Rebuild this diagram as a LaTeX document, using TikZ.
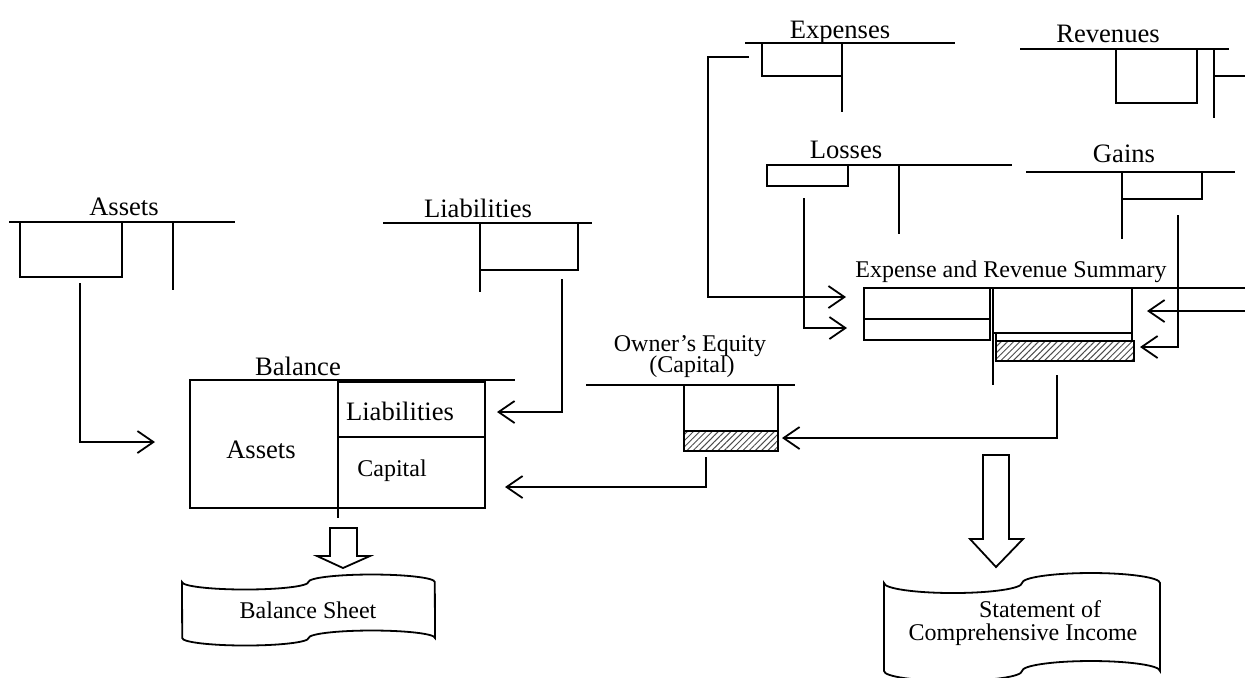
\documentclass[tikz,border=0pt]{standalone}
\usepackage{fontspec}
\setmainfont{Liberation Serif}
\usetikzlibrary{arrows.meta,patterns.meta}

\begin{document}
\begin{tikzpicture}[
        x=0.5pt, y=-0.5pt, line width=0.9pt,
        BigText/.style={font=\fontsize{13.3}{15}\selectfont, anchor=base, inner sep=0pt},
        SmallText/.style={font=\fontsize{12}{14}\selectfont, anchor=base, inner sep=0pt},
        Flow/.style={-{Straight Barb[length=8pt,width=11pt]}},
        Hatch/.style={draw, pattern={Lines[angle=45,distance=2.2pt,line width=0.5pt]}, pattern color=black!70},
        BigArrow/.style={draw, fill=white},
        ]
    \useasboundingbox (0,0) rectangle (1245,677);
    % Assets
    \node [BigText] (assets) at (124,215) {Assets};
    \draw (9,222) -- (235,222) (173,222) -- (173,290);
    \draw (20,222) rectangle (122,277);
    % Liabilities
    \node [BigText] (liab) at (478,217) {Liabilities};
    \draw (383,223) -- (592,223) (480,270) -- (480,292);
    \draw (480,223) rectangle (578,270);
    % Balance
    \node [BigText] (balance) at (298,375) {Balance};
    \draw (190,380) -- (515,380);
    \draw (190,380) rectangle (338,508);
    \draw (338,382) rectangle (485,508) (338,437) -- (485,437) (338,508) -- (338,518);
    \node [BigText] (balAssets) at (261,458) {Assets};
    \node [BigText] (balLiab) at (400,420) {Liabilities};
    \node [SmallText] (balCap) at (392,476) {Capital};
    % Owner's equity
    \node [SmallText] (owner) at (690,351) {Owner’s Equity};
    \node [SmallText] (ownerCap) at (692,372) {(Capital)};
    \draw (586,385) -- (795,385);
    \draw (684,385) rectangle (778,431);
    \draw [Hatch] (684,431) rectangle (778,451);
    % Expenses and Revenues
    \node [BigText] (exp) at (840,38) {Expenses};
    \draw (745,43) -- (955,43) (842,76) -- (842,112);
    \draw (762,43) rectangle (842,76);
    \node [BigText] (rev) at (1108,42) {Revenues};
    \draw (1020,49) -- (1229,49) (1214,49) -- (1214,118) (1214,76) -- (1245,76);
    \draw (1116,49) rectangle (1197,103);
    % Losses and Gains
    \node [BigText] (loss) at (846,158) {Losses};
    \draw (767,165) -- (1012,165) (899,165) -- (899,234);
    \draw (767,165) rectangle (848,186);
    \node [BigText] (gain) at (1124,162) {Gains};
    \draw (1026,172) -- (1235,172) (1122,199) -- (1122,239);
    \draw (1122,172) rectangle (1202,199);
    % Summary
    \node [SmallText] (summary) at (1011,277) {Expense and Revenue Summary};
    \draw (864,288) -- (1245,288) (993,288) -- (993,385);
    \draw (864,288) rectangle (990,319) (864,319) rectangle (990,340);
    \draw (993,288) rectangle (1132,333) (996,333) rectangle (1132,341);
    \draw [Hatch] (996,341) rectangle (1134,361);
    % connectors
    \coordinate (assetsOut) at (80,283);
    \coordinate (balIn) at (155,442);
    \coordinate (liabOut) at (562,279);
    \coordinate (liabIn) at (497,412);
    \coordinate (ownerOut) at (706,457);
    \coordinate (capIn) at (505,487);
    \coordinate (sumOut) at (1057,375);
    \coordinate (ownerIn) at (782,438);
    \coordinate (expOut) at (749,57);
    \coordinate (expBend) at (708,57);
    \coordinate (sumExpIn) at (846,297);
    \coordinate (lossOut) at (804,198);
    \coordinate (sumLossIn) at (847,328);
    \coordinate (revOut) at (1245,311);
    \coordinate (sumRevIn) at (1147,311);
    \coordinate (gainOut) at (1178,215);
    \coordinate (sumGainIn) at (1140,347);
    \begin{scope}[Flow]
        \draw (assetsOut) |- (balIn);
        \draw (liabOut) |- (liabIn);
        \draw (ownerOut) |- (capIn);
        \draw (sumOut) |- (ownerIn);
        \draw (expOut) -- (expBend) |- (sumExpIn);
        \draw (lossOut) |- (sumLossIn);
        \draw (revOut) -- (sumRevIn);
        \draw (gainOut) |- (sumGainIn);
    \end{scope}
    % reports
    \draw [BigArrow] (330,528) -- (357,528) -- (357,556) -- (370,556) -- (343,568) -- (317,556) -- (330,556) -- cycle;
    \draw [BigArrow] (983,455) -- (1009,455) -- (1009,539) -- (1023,539) -- (996,567) -- (970,539) -- (983,539) -- cycle;
    \draw (182,582) arc[start angle=180, end angle=360, x radius=31.6pt, y radius=3.75pt]
        arc[start angle=180, end angle=0, x radius=31.6pt, y radius=3.75pt] -- (435,638)
        arc[start angle=0, end angle=180, x radius=31.6pt, y radius=3.75pt]
        arc[start angle=0, end angle=-180, x radius=31.6pt, y radius=3.75pt] -- cycle;
    \node [SmallText] (bsheet) at (308,618) {Balance Sheet};
    \draw (884,583) arc[start angle=180, end angle=360, x radius=34.5pt, y radius=5pt]
        arc[start angle=180, end angle=0, x radius=34.5pt, y radius=5pt] -- (1160,671)
        arc[start angle=0, end angle=180, x radius=34.5pt, y radius=5pt]
        arc[start angle=0, end angle=-180, x radius=34.5pt, y radius=5pt] -- cycle;
    \node [SmallText] (stmt) at (1040,617) {Statement of};
    \node [SmallText] (stmtInc) at (1023,640) {Comprehensive Income};
\end{tikzpicture}
\end{document}
